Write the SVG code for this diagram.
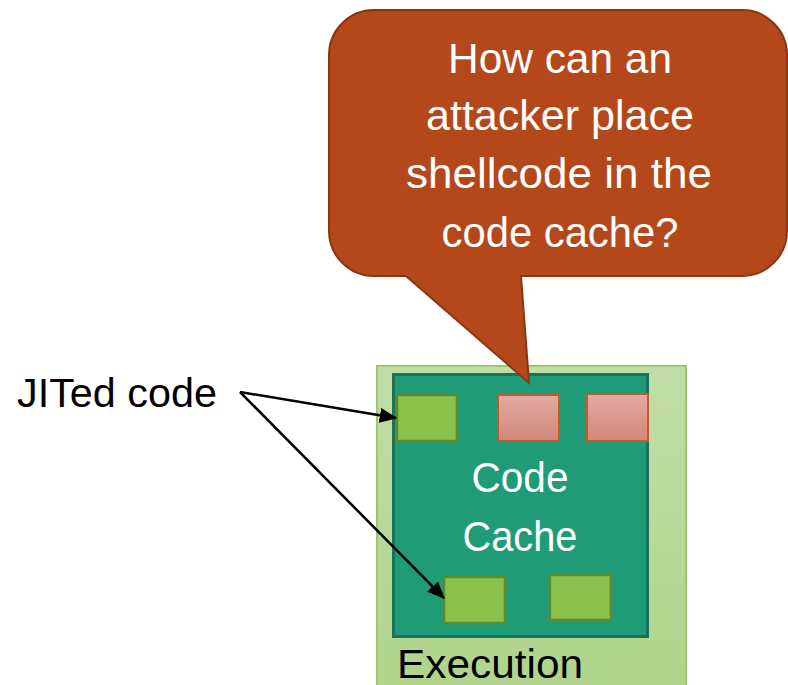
<svg xmlns="http://www.w3.org/2000/svg" width="788" height="685" viewBox="0 0 788 685">
<style>
.jit{fill:#8bc04a;stroke:#5f8a2a;stroke-width:2.5}
.shell{fill:url(#pink);stroke:#c25a2c;stroke-width:2}
.wt{fill:#ffffff;font-family:"Liberation Sans",Arial,sans-serif;text-anchor:middle}
.bt{fill:#000000;font-family:"Liberation Sans",Arial,sans-serif}
.conn{stroke:#000;stroke-width:2.5;fill:none;marker-end:url(#ah)}
</style>
<defs>
<linearGradient id="pink" x1="0" y1="0" x2="0" y2="1"><stop offset="0" stop-color="#e3aba1"/><stop offset="1" stop-color="#d3877a"/></linearGradient>
<linearGradient id="exec" x1="0" y1="0" x2="0" y2="1"><stop offset="0" stop-color="#c2dda8"/><stop offset="1" stop-color="#b0d48a"/></linearGradient>
<marker id="ah" markerWidth="7" markerHeight="6" refX="6.5" refY="3" orient="auto" markerUnits="strokeWidth"><path d="M0,0 L7,3 L0,6 Z" fill="#000"/></marker>
</defs>
<g id="execution">
<rect x="377" y="366" width="309" height="330" fill="url(#exec)" stroke="#9cc86c" stroke-width="2"/>
<text class="bt" x="397" y="678" font-size="40" textLength="186" lengthAdjust="spacingAndGlyphs">Execution</text>
</g>
<g id="code-cache">
<rect x="393.5" y="374.5" width="254" height="262" fill="#1f9b78" stroke="#17735a" stroke-width="3"/>
<text class="wt" x="520" y="492" font-size="43" textLength="97" lengthAdjust="spacingAndGlyphs">Code</text>
<text class="wt" x="520" y="551" font-size="43" textLength="115" lengthAdjust="spacingAndGlyphs">Cache</text>
</g>
<g id="jit1"><rect class="jit" x="397" y="395" width="60" height="46"/></g>
<g id="shell1"><rect class="shell" x="498" y="395" width="61" height="46"/></g>
<g id="shell2"><rect class="shell" x="587" y="394" width="61" height="47"/></g>
<g id="jit2"><rect class="jit" x="444" y="577" width="61" height="46"/></g>
<g id="jit3"><rect class="jit" x="550" y="575" width="61" height="45"/></g>
<g id="jited-label">
<text class="bt" x="17" y="407" font-size="41" textLength="200" lengthAdjust="spacingAndGlyphs">JITed code</text>
</g>
<g id="connectors">
<line class="conn" x1="240" y1="392" x2="396" y2="418"/>
<line class="conn" x1="240" y1="392" x2="444" y2="598"/>
</g>
<g id="callout">
<path d="M374,10 H742 A45,45 0 0 1 787,55 V231 A45,45 0 0 1 742,276 H521 L529,383 L406,276 H374 A45,45 0 0 1 329,231 V55 A45,45 0 0 1 374,10 Z" fill="#b5481a" stroke="#8b3512" stroke-width="2"/>
<text class="wt" x="560" y="73" font-size="42" textLength="224" lengthAdjust="spacingAndGlyphs">How can an</text>
<text class="wt" x="560" y="130" font-size="42" textLength="268" lengthAdjust="spacingAndGlyphs">attacker place</text>
<text class="wt" x="559" y="188" font-size="42" textLength="306" lengthAdjust="spacingAndGlyphs">shellcode in the</text>
<text class="wt" x="560" y="247" font-size="42" textLength="237" lengthAdjust="spacingAndGlyphs">code cache?</text>
</g>
</svg>
